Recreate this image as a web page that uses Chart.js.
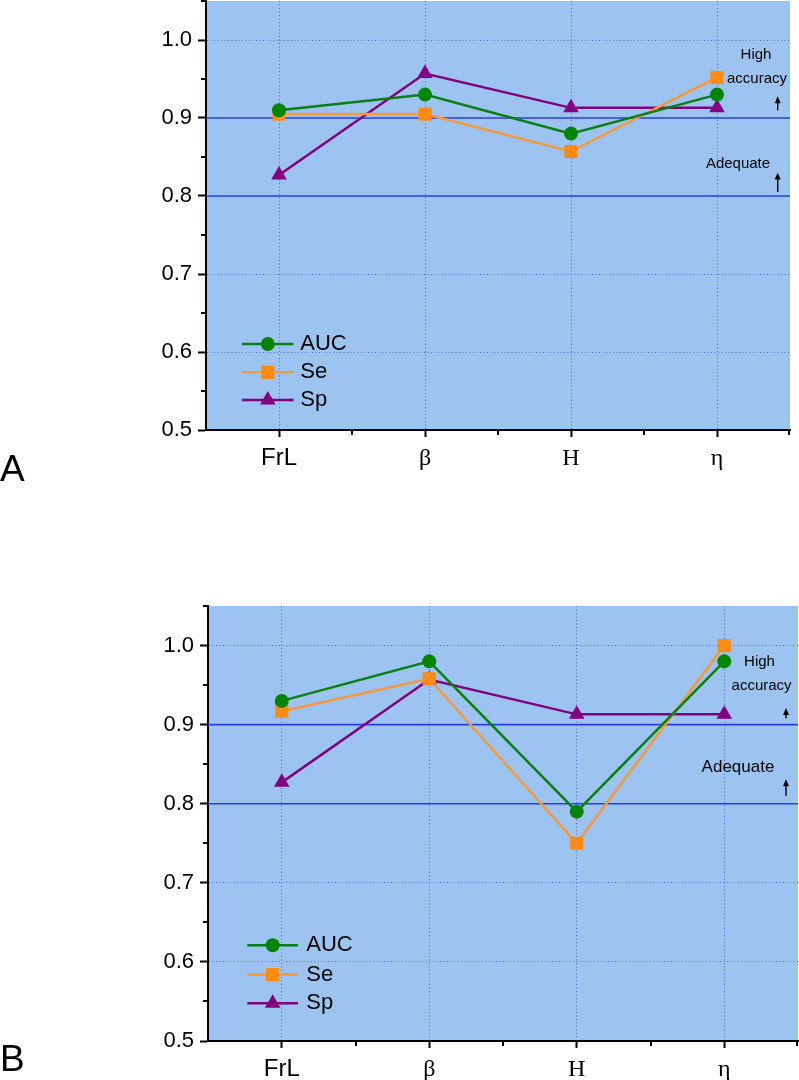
<!DOCTYPE html>
<html><head><meta charset="utf-8">
<script src="https://cdn.jsdelivr.net/npm/chart.js@4.4.0/dist/chart.umd.min.js"></script>
<style>
html,body{margin:0;padding:0;background:#fff;}
body{width:799px;height:1080px;position:relative;overflow:hidden;font-family:"Liberation Sans",Arial,sans-serif;}
.wrap{position:absolute;left:0;width:799px;}
#w1{top:0;height:500px;}
#w2{top:540px;height:540px;}
.panel{position:absolute;left:0px;font-size:37px;line-height:37px;color:#000;font-family:"Liberation Sans",Arial,sans-serif;}
</style></head><body>
<div class="wrap" id="w1"><canvas id="c1" width="799" height="500"></canvas></div>
<div class="wrap" id="w2"><canvas id="c2" width="799" height="540"></canvas></div>
<div class="panel" style="top:450px;">A</div>
<div class="panel" style="top:1040px;">B</div>
<script>
// ---- data ----
const categories = ['FrL', 'β', 'H', 'η'];
const seriesNames = ['AUC', 'Se', 'Sp'];
const aucA = [0.910, 0.930, 0.880, 0.930];
const seA  = [0.905, 0.905, 0.857, 0.952];
const spA  = [0.827, 0.957, 0.913, 0.913];
const aucB = [0.930, 0.980, 0.790, 0.980];
const seB  = [0.917, 0.958, 0.750, 1.000];
const spB  = [0.827, 0.957, 0.913, 0.913];
const yTickValues = [0.5, 0.6, 0.7, 0.8, 0.9, 1.0];
const yMinorTicks = [0.55, 0.65, 0.75, 0.85, 0.95, 1.05];
const yGridValues = [0.6, 0.7, 1.0];
const thresholds = [0.9, 0.8];
const yMin = 0.5, yMax = 1.05;

// ---- styles ----
const styles = [
  {line: '#0a7f14', fill: '#058405', pointStyle: 'circle', radius: 7},
  {line: '#f4993e', fill: '#ff8a14', pointStyle: 'rect', radius: 9.3},
  {line: '#800080', fill: '#820082', pointStyle: 'triangle', radius: 9}
];

function drawMarker(ctx, style, r, x, y, color) {
  ctx.save();
  ctx.fillStyle = color;
  ctx.beginPath();
  if (style === 'circle') {
    ctx.arc(x, y, r, 0, Math.PI * 2);
  } else if (style === 'rect') {
    const s = Math.SQRT1_2 * r;
    ctx.rect(x - s, y - s, 2 * s, 2 * s);
  } else {
    let rad = 0;
    ctx.moveTo(x + Math.sin(rad) * r, y - Math.cos(rad) * r);
    rad += 2 * Math.PI / 3;
    ctx.lineTo(x + Math.sin(rad) * r, y - Math.cos(rad) * r);
    rad += 2 * Math.PI / 3;
    ctx.lineTo(x + Math.sin(rad) * r, y - Math.cos(rad) * r);
    ctx.closePath();
  }
  ctx.fill();
  ctx.restore();
}

function drawArrow(ctx, x, yTopPx, yBotPx) {
  ctx.save();
  ctx.strokeStyle = '#000';
  ctx.fillStyle = '#000';
  ctx.lineWidth = 1.4;
  ctx.beginPath();
  ctx.moveTo(x, yBotPx);
  ctx.lineTo(x, yTopPx + 4);
  ctx.stroke();
  ctx.beginPath();
  ctx.moveTo(x, yTopPx);
  ctx.lineTo(x - 3, yTopPx + 7);
  ctx.lineTo(x + 3, yTopPx + 7);
  ctx.closePath();
  ctx.fill();
  ctx.restore();
}

function makeChart(id, values, geo) {
  const datasets = values.map((vals, i) => ({
    label: seriesNames[i],
    data: vals,
    borderColor: styles[i].line,
    backgroundColor: styles[i].fill,
    pointBackgroundColor: styles[i].fill,
    pointBorderWidth: 0,
    pointStyle: styles[i].pointStyle,
    pointRadius: styles[i].radius,
    pointHoverRadius: styles[i].radius,
    borderWidth: 2.5,
    tension: 0,
    fill: false,
    clip: false
  }));

  const customPlugin = {
    id: 'custom_' + id,
    beforeDraw(chart) {
      const a = chart.chartArea, ctx = chart.ctx;
      ctx.save();
      ctx.fillStyle = '#9dc4f0';
      ctx.fillRect(a.left, a.top, a.right - a.left, a.bottom - a.top);
      ctx.restore();
    },
    beforeDatasetsDraw(chart) {
      const a = chart.chartArea, ctx = chart.ctx, y = chart.scales.y;
      ctx.save();
      ctx.strokeStyle = '#2a3ce6';
      ctx.lineWidth = 1.7;
      thresholds.forEach(t => {
        const py = y.getPixelForValue(t);
        ctx.beginPath();
        ctx.moveTo(a.left, py);
        ctx.lineTo(a.right, py);
        ctx.stroke();
      });
      ctx.restore();
    },
    afterDraw(chart) {
      const a = chart.chartArea, ctx = chart.ctx, y = chart.scales.y, x = chart.scales.x;
      ctx.save();
      // minor ticks
      ctx.strokeStyle = '#000';
      ctx.lineWidth = 2;
      yMinorTicks.forEach(v => {
        const py = Math.round(y.getPixelForValue(v));
        ctx.beginPath();
        ctx.moveTo(a.left, py);
        ctx.lineTo(a.left - 5, py);
        ctx.stroke();
      });
      for (let i = 0; i < categories.length; i++) {
        const px = i < categories.length - 1
          ? (x.getPixelForValue(i) + x.getPixelForValue(i + 1)) / 2
          : a.right - 1;
        ctx.beginPath();
        ctx.moveTo(Math.round(px), a.bottom);
        ctx.lineTo(Math.round(px), a.bottom + 5);
        ctx.stroke();
      }
      // legend
      datasets.forEach((ds, i) => {
        const ly = a.bottom - geo.legendRows[i];
        ctx.strokeStyle = ds.borderColor;
        ctx.lineWidth = 2.5;
        ctx.beginPath();
        ctx.moveTo(a.left + geo.legendX0, ly);
        ctx.lineTo(a.left + geo.legendX1, ly);
        ctx.stroke();
        drawMarker(ctx, ds.pointStyle, ds.pointRadius,
          a.left + (geo.legendX0 + geo.legendX1) / 2, ly, ds.pointBackgroundColor);
        ctx.fillStyle = '#000';
        ctx.font = '22px "Liberation Sans", Arial, sans-serif';
        ctx.textAlign = 'left';
        ctx.textBaseline = 'middle';
        ctx.fillText(ds.label, a.left + geo.legendText, ly);
      });
      // annotations
      ctx.fillStyle = '#000';
      ctx.textAlign = 'center';
      ctx.textBaseline = 'middle';
      ctx.font = geo.hiFont + 'px "Liberation Sans", Arial, sans-serif';
      ctx.fillText('High', a.right - geo.highX, y.getPixelForValue(geo.highV));
      ctx.fillText('accuracy', a.right - geo.accX, y.getPixelForValue(geo.accV));
      ctx.font = geo.adFont + 'px "Liberation Sans", Arial, sans-serif';
      ctx.fillText('Adequate', a.right - geo.adX, y.getPixelForValue(geo.adV));
      drawArrow(ctx, a.right - geo.arrowX, y.getPixelForValue(geo.arrow1[0]), y.getPixelForValue(geo.arrow1[1]));
      drawArrow(ctx, a.right - geo.arrowX, y.getPixelForValue(geo.arrow2[0]), y.getPixelForValue(geo.arrow2[1]));
      ctx.restore();
    }
  };

  return new Chart(document.getElementById(id), {
    type: 'line',
    data: {labels: categories, datasets: datasets},
    options: {
      responsive: false,
      animation: false,
      devicePixelRatio: 1,
      layout: {autoPadding: false, padding: {left: 0, right: geo.padR, top: geo.padT, bottom: geo.padB}},
      plugins: {legend: {display: false}, tooltip: {enabled: false}},
      scales: {
        x: {
          type: 'category',
          offset: true,
          grid: {
            color: '#4a6ae8', lineWidth: 1, drawTicks: true,
            tickLength: 7, tickColor: '#000', tickWidth: 2
          },
          border: {display: true, color: '#000', width: 2, dash: [1, 2.5]},
          ticks: {
            color: '#000', padding: 7, maxRotation: 0, autoSkip: false,
            font: (c) => c.index === 0
              ? {family: '"Liberation Sans", Arial, sans-serif', size: 24}
              : {family: '"Liberation Serif", "Times New Roman", serif', size: 24}
          },
          afterFit(scale) { scale.height = geo.xH; scale.paddingLeft = 0; scale.paddingRight = 0; }
        },
        y: {
          type: 'linear',
          min: yMin, max: yMax,
          afterBuildTicks(scale) { scale.ticks = yTickValues.map(v => ({value: v})); },
          grid: {
            color: (c) => (c.tick && yGridValues.some(v => Math.abs(v - c.tick.value) < 1e-6)) ? '#4a6ae8' : 'rgba(0,0,0,0)',
            lineWidth: 1, drawTicks: true, tickLength: 8, tickColor: '#000', tickWidth: 2
          },
          border: {display: true, color: '#000', width: 2, dash: [1, 2.5]},
          ticks: {
            color: '#000', padding: 6,
            font: {family: '"Liberation Sans", Arial, sans-serif', size: 22},
            callback: (v) => Number(v).toFixed(1)
          },
          afterFit(scale) { scale.width = geo.yW; scale.paddingTop = 0; scale.paddingBottom = 0; }
        }
      }
    },
    plugins: [customPlugin]
  });
}

makeChart('c1', [aucA, seA, spA], {
  padR: 9, padT: 1, padB: 20, xH: 50, yW: 206,
  legendRows: [86, 57.7, 30], legendX0: 36, legendX1: 87.6, legendText: 94.3,
  hiFont: 15, adFont: 15,
  highX: 34, highV: 0.981, accX: 33, accV: 0.950, adX: 52, adV: 0.841,
  arrowX: 12.3, arrow1: [0.928, 0.910], arrow2: [0.830, 0.805]
});
makeChart('c2', [aucB, seB, spB], {
  padR: 1, padT: 66, padB: 0, xH: 39, yW: 208,
  legendRows: [95.7, 66.4, 37.7], legendX0: 39.3, legendX1: 90, legendText: 98.3,
  hiFont: 15, adFont: 17,
  highX: 38.5, highV: 0.979, accX: 36.4, accV: 0.949, adX: 60, adV: 0.846,
  arrowX: 12, arrow1: [0.921, 0.908], arrow2: [0.831, 0.810]
});
</script>
</body></html>
